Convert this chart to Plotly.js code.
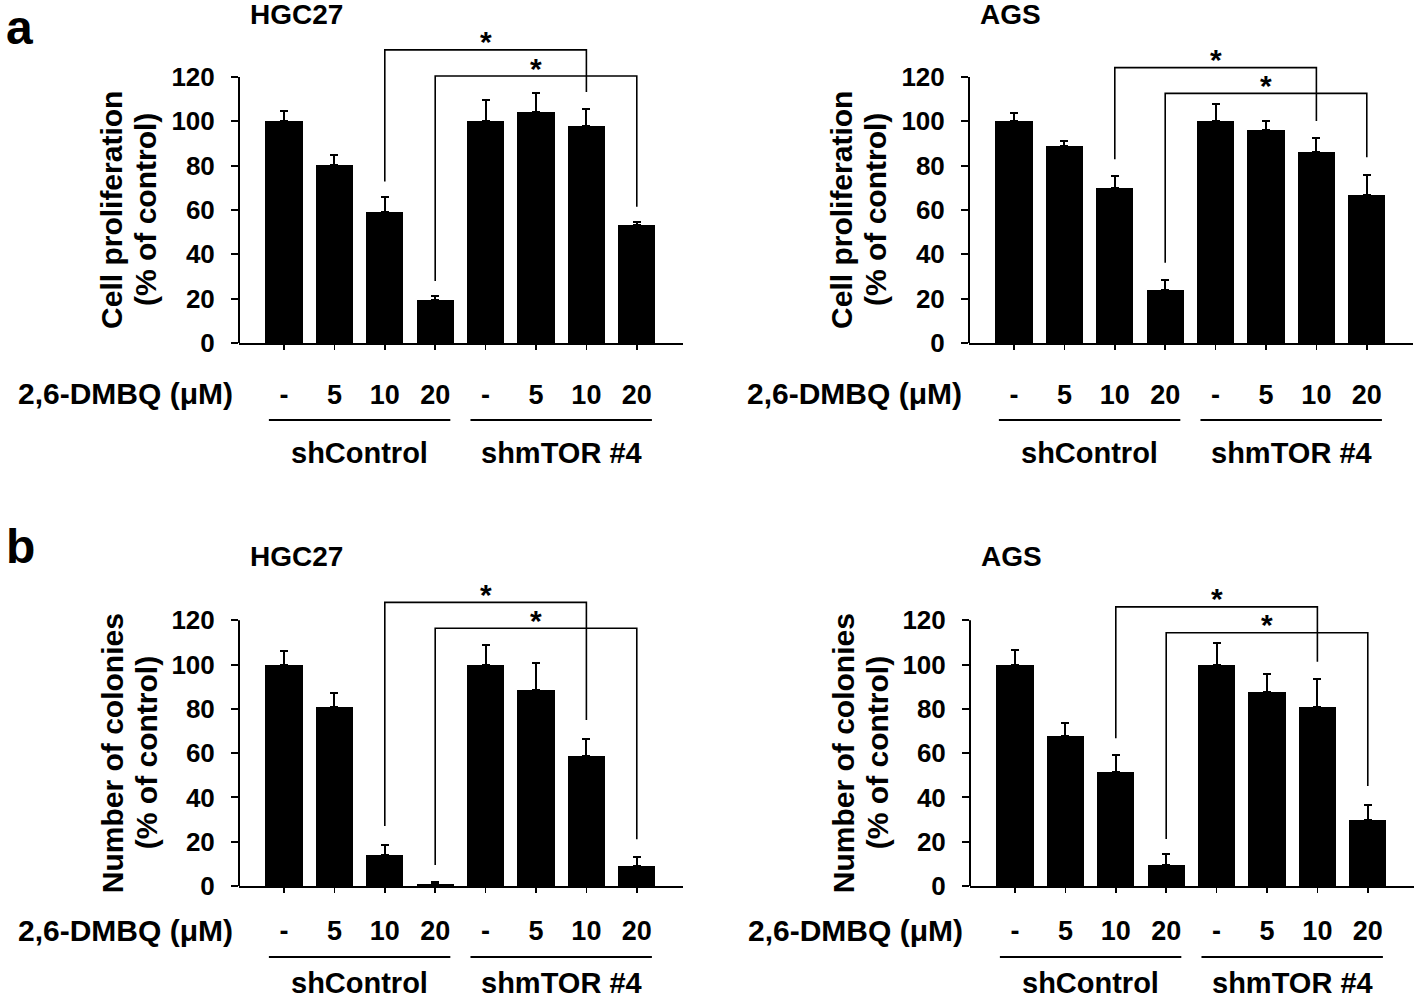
<!DOCTYPE html>
<html><head><meta charset="utf-8">
<script src="https://cdn.plot.ly/plotly-3.0.1.min.js"></script>
<style>html,body{margin:0;padding:0;background:#fff}</style>
</head><body><div id="chart" style="width:1418px;height:1002px"></div>
<script>
// ---- data ----
const doseLabels = ['-', '5', '10', '20', '-', '5', '10', '20'];
const groupNames = ['shControl', 'shmTOR #4'];
const groupMembers = [[0, 1, 2, 3], [4, 5, 6, 7]];
const yTickVals = [0, 20, 40, 60, 80, 100, 120];
const doseAxisLabel = '2,6-DMBQ (μM)';

const hgcProlif = [100, 80.3, 59.2, 19.2, 100, 104, 98, 53.4];
const hgcProlifErr = [4.6, 4.5, 6.5, 2.1, 9.5, 8.6, 7.7, 1.2];
const agsProlif = [100, 88.9, 69.8, 23.9, 100, 96.2, 86.2, 66.8];
const agsProlifErr = [3.6, 2.2, 5.7, 4.5, 8, 4, 6.4, 9.1];
const hgcColonies = [100, 80.8, 13.9, 0.8, 100, 88.4, 58.6, 9.2];
const hgcColoniesErr = [6, 6.3, 4.6, 1.1, 9, 12.2, 7.7, 3.9];
const agsColonies = [100, 67.6, 51.6, 9.5, 100, 87.5, 81, 29.8];
const agsColoniesErr = [6.6, 6.2, 7.4, 4.8, 9.9, 8.1, 12.4, 6.8];

// significance brackets: [fromIndex, toIndex, topValue, leftEnd, rightEnd]
const hgcProlifSig = [[2, 6, 132.2, 72.8, 113.2], [3, 7, 120.4, 28, 61.5]];
const agsProlifSig = [[2, 6, 124.2, 82.9, 100.1], [3, 7, 112.6, 36.2, 83.8]];
const hgcColoniesSig = [[2, 6, 128.1, 27.1, 75], [3, 7, 116.4, 9.5, 21.1]];
const agsColoniesSig = [[2, 6, 126.1, 66.7, 101.3], [3, 7, 114.4, 21.2, 45.2]];

const prolifTitle = ['Cell proliferation', '(% of control)'];
const colonyTitle = ['Number of colonies', '(% of control)'];

// ---- layout helpers ----
const W = 1418, H = 1002;
const px = v => v / W;
const py = v => 1 - v / H;
const FONT = 'Liberation Sans, Arial, Helvetica, sans-serif';
const bold = (size) => ({family: FONT, size: size, color: '#000', weight: 'bold'});

const panels = [
  {xa: 'x', ya: 'y', vals: hgcProlif, errs: hgcProlifErr, sig: hgcProlifSig, title: 'HGC27',
   ytitle: prolifTitle, axisX: 239, zeroY: 343, topY: 21.5,
   tickStandoff: 22, lineY: 420, groupY: 453, labelY: 394, titleY: 15, letter: 'a', letterY: 27},
  {xa: 'x2', ya: 'y2', vals: agsProlif, errs: agsProlifErr, sig: agsProlifSig, title: 'AGS',
   ytitle: prolifTitle, axisX: 969, zeroY: 343, topY: 21.5,
   tickStandoff: 22, lineY: 420, groupY: 453, labelY: 394, titleY: 15},
  {xa: 'x3', ya: 'y3', vals: hgcColonies, errs: hgcColoniesErr, sig: hgcColoniesSig, title: 'HGC27',
   ytitle: colonyTitle, axisX: 239, zeroY: 886, topY: 565,
   tickStandoff: 15, lineY: 957, groupY: 983, labelY: 930, titleY: 556, letter: 'b', letterY: 546},
  {xa: 'x4', ya: 'y4', vals: agsColonies, errs: agsColoniesErr, sig: agsColoniesSig, title: 'AGS',
   ytitle: colonyTitle, axisX: 970, zeroY: 886, topY: 565,
   tickStandoff: 15, lineY: 957, groupY: 983, labelY: 930, titleY: 556}
];

const idx = doseLabels.map((_, i) => i);
const traces = [];
const shapes = [];
const annotations = [];
const layout = {
  width: W, height: H, margin: {l: 0, r: 0, t: 0, b: 0},
  paper_bgcolor: '#fff', plot_bgcolor: 'rgba(0,0,0,0)',
  showlegend: false, bargap: 0, font: {family: FONT, color: '#000'}
};

panels.forEach((p) => {
  traces.push({
    type: 'bar', x: idx, y: p.vals, xaxis: p.xa, yaxis: p.ya, width: 0.74,
    marker: {color: '#000', line: {width: 0}},
    error_y: {type: 'data', symmetric: false, array: p.errs, arrayminus: p.vals.map(() => 0),
              color: '#000', thickness: 2, width: 4},
    hoverinfo: 'skip'
  });
  const xKey = p.xa === 'x' ? 'xaxis' : 'xaxis' + p.xa.slice(1);
  const yKey = p.ya === 'y' ? 'yaxis' : 'yaxis' + p.ya.slice(1);
  layout[xKey] = {
    domain: [px(p.axisX), px(p.axisX + 444)], range: [-0.893, 7.917], anchor: p.ya,
    tickmode: 'array', tickvals: idx, ticktext: doseLabels,
    ticks: 'outside', ticklen: 5, tickwidth: 1.5, tickcolor: '#000',
    showline: true, linewidth: 2, linecolor: '#000', showgrid: false, zeroline: false,
    tickfont: bold(27), ticklabelstandoff: p.tickStandoff, fixedrange: true
  };
  layout[yKey] = {
    domain: [py(p.zeroY), py(p.topY)], range: [0, 145], anchor: p.xa,
    tickmode: 'array', tickvals: yTickVals,
    ticks: 'outside', ticklen: 7, tickwidth: 2, tickcolor: '#000',
    showline: false, showgrid: false, zeroline: false,
    tickfont: bold(26), ticklabelstandoff: 11, fixedrange: true
  };
  // y axis line (only up to 120)
  shapes.push({type: 'line', xref: p.xa + ' domain', yref: p.ya, x0: 0, x1: 0,
               y0: 0, y1: yTickVals[yTickVals.length - 1], line: {color: '#000', width: 2}});
  // significance brackets and stars
  p.sig.forEach(([a, b, top, l, r]) => {
    shapes.push({type: 'path', xref: p.xa, yref: p.ya,
                 path: `M ${a},${l} L ${a},${top} L ${b},${top} L ${b},${r}`,
                 line: {color: '#000', width: 1.6}});
    annotations.push({xref: p.xa, yref: p.ya, x: (a + b) / 2, y: top, text: '*',
                      showarrow: false, yanchor: 'middle', yshift: 8, font: bold(30)});
  });
  // group underlines and labels
  groupMembers.forEach((m, gi) => {
    const x0 = m[0] - 0.3, x1 = m[m.length - 1] + 0.3;
    shapes.push({type: 'line', xref: p.xa, yref: 'paper', x0: x0, x1: x1,
                 y0: py(p.lineY), y1: py(p.lineY), line: {color: '#000', width: 2}});
    annotations.push({xref: p.xa, yref: 'paper', x: (m[0] + m[m.length - 1]) / 2, y: py(p.groupY),
                      text: groupNames[gi], showarrow: false, yanchor: 'middle', font: bold(29)});
  });
  // dose label
  annotations.push({xref: 'paper', yref: 'paper', x: px(p.axisX - 114), y: py(p.labelY),
                    text: doseAxisLabel, showarrow: false, xanchor: 'center', yanchor: 'middle', font: bold(30)});
  // y title, two lines
  const yMid = py((p.zeroY + (p.zeroY - (p.zeroY - p.topY) * 120 / 145)) / 2);
  [-127, -93].forEach((dx, li) => {
    annotations.push({xref: 'paper', yref: 'paper', x: px(p.axisX + dx), y: yMid,
                      text: p.ytitle[li], showarrow: false, textangle: -90,
                      xanchor: 'center', yanchor: 'middle', font: bold(30)});
  });
  // cell line title
  annotations.push({xref: 'paper', yref: 'paper', x: px(p.axisX + 9), y: py(p.titleY),
                    text: p.title, showarrow: false, xanchor: 'left', yanchor: 'middle', font: bold(28)});
  if (p.letter) {
    annotations.push({xref: 'paper', yref: 'paper', x: px(4), y: py(p.letterY),
                      text: p.letter, showarrow: false, xanchor: 'left', yanchor: 'middle', font: bold(48)});
  }
});

layout.shapes = shapes;
layout.annotations = annotations;
Plotly.newPlot('chart', traces, layout, {displayModeBar: false, staticPlot: true});
</script>
</body></html>
